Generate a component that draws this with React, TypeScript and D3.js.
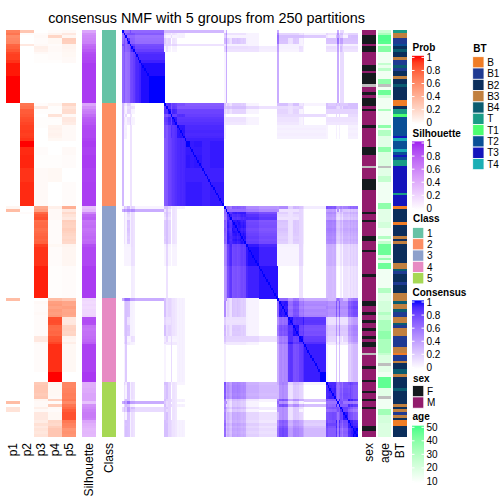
import React from "react";
import * as d3 from "d3";

// ---- membership probabilities (rows in plotted order) ----
const p1 = [
  0.65,0.70,0.60,0.62,0.63,0.76,0.78,0.82,0.88,0.90,
  0.90,0.93,0.98,0.98,0.98,0.98,0.98,1,1,1,
  1,1,1,1,1,1,1,
  0,0,0,0,0,0,0,0,0,0, 0,0,0,0,0,0,0,0,0,0, 0,0,0,0,0,0,0,0,0,0, 0,0,0,0,0,0,0,0,
  0.05,0.35,0,0,0,0,0,0,0,0, 0,0,0,0,0,0,0,0,0,0, 0,0,0,0,0,0,0,0,0,0, 0,0,0,0,
  0.35,0,0,0,0,0,0,0,0,0, 0,0,0,0,0,0,0,0,0,0, 0,0,0,0,0,0,0,0,0,0, 0,
  0,0,0,0,0,0,0,0.35,0,0.15, 0.15,0,0,0,0,0,0,0,0,0,
];
const p2 = [
  0.30,0.02,0,0,0,0.12,0,0,0,0, 0,0,0,0,0,0,0,0,0,0, 0,0,0,0,0,0,0,
  0.70,0.72,0.80,0.80,0.82,0.85,0.86,0.88,0.90,0.90,
  0.91,0.90,0.91,0.93,1,1,0.95,0.95,0.95,0.96,
  0.96,0.96,0.96,0.96,0.93,0.93,0.93,0.93,0.93,0.95,
  0.95,0.95,0.95,0.95,0.95,0.95,0.95,0.95,
  0,0,0.02,0,0,0,0,0,0,0, 0,0,0,0,0,0,0,0,0,0, 0,0,0,0,0,0,0,0,0,0, 0,0,0,0,
  0,0,0,0,0,0,0,0,0,0, 0,0,0,0,0,0,0,0,0,0, 0,0,0,0,0,0,0,0,0,0, 0,
  0,0,0,0,0,0,0,0,0,0, 0,0,0,0,0,0,0,0,0,0,
];
const p3 = [
  0,0.02,0.03,0.02,0.02,0.03,0.08,0.07,0.03,0.01, 0.01,0.01,0,0,0,0,0,0,0,0, 0,0,0,0,0,0,0,
  0.02,0.12,0.01,0.01,0,0.01,0.01,0.01,0.01,0,
  0,0,0,0,0,0,0.02,0.02,0.02,0.01,
  0.01,0.01,0.01,0.01,0.03,0.03,0.03,0.03,0.03,0.03,
  0.03,0.03,0.03,0.03,0.03,0.03,0.03,0.03,
  0.45,0.50,0.75,0.82,0.85,0.72,0.74,0.75,0.72,0.74,
  0.76,0.78,0.76,0.78,0.90,0.93,0.93,0.93,0.93,0.93,
  0.93,0.93,0.97,0.97,0.97,0.97,0.97,0.97,0.97,0.97, 0.97,0.97,0.97,0.97,
  0,0.03,0.02,0.02,0.02,0.03,0.02,0.02,0.02,0.02,
  0.02,0.02,0.02,0.02,0.12,0.12,0.03,0.02,0.02,0.02,
  0.02,0.02,0.02,0.02,0.02,0.02,0.02,0,0,0, 0,
  0.28,0.30,0.30,0.30,0.28,0.30,0.05,0.03,0.03,0.08,
  0.03,0.12,0.12,0.12,0.10,0.16,0.12,0.15,0.13,0.15,
];
const p4 = [
  0.02,0.06,0.22,0.04,0.04,0.02,0.03,0.03,0.02,0.02, 0.02,0.01,0,0,0,0,0,0,0,0, 0,0,0,0,0,0,0,
  0.05,0.01,0.01,0.01,0.15,0.02,0.01,0.01,0.06,0.07,
  0.06,0.07,0.06,0.04,0,0,0,0,0,0.01,
  0.01,0.01,0.01,0.01,0.04,0.04,0.04,0.04,0.04,0,
  0,0,0,0,0,0,0,0,
  0.08,0.03,0.03,0.03,0.03,0.02,0.02,0.02,0.02,0.02,
  0.02,0.02,0.02,0.02,0.04,0.02,0.02,0.02,0.02,0.02,
  0.02,0.02,0.01,0.01,0.01,0.01,0.01,0.01,0.01,0.01, 0.01,0.01,0.01,0.01,
  0.35,0.50,0.52,0.48,0.52,0.50,0.53,0.85,0.86,0.85,
  0.75,0.74,0.76,0.75,0.82,0.83,0.88,0.94,0.94,0.94,
  0.94,0.94,0.94,0.94,0.94,0.94,0.94,1,1,1, 1,
  0.05,0.04,0.04,0.04,0.04,0.03,0.25,0.02,0.27,0.03,
  0.02,0.04,0.04,0.04,0.22,0.20,0.26,0.30,0.30,0.30,
];
const p5 = [
  0.03,0.12,0.05,0.26,0.25,0.06,0.06,0.05,0.04,0.04, 0.03,0.03,0,0,0,0,0,0,0,0, 0,0,0,0,0,0,0,
  0.22,0.15,0.18,0.18,0.03,0.12,0.12,0.10,0.03,0.03,
  0.03,0.03,0.03,0.03,0,0,0.03,0.03,0.03,0.02,
  0.02,0.02,0.02,0.02,0,0,0,0,0,0.02,
  0.02,0.02,0.02,0.02,0.02,0.02,0.02,0.02,
  0.42,0.12,0.20,0.15,0.12,0.26,0.24,0.23,0.26,0.24,
  0.22,0.20,0.22,0.20,0.06,0.05,0.05,0.05,0.05,0.05,
  0.05,0.05,0.02,0.02,0.02,0.02,0.02,0.02,0.02,0.02, 0.02,0.02,0.02,0.02,
  0.30,0.47,0.46,0.50,0.46,0.47,0.45,0.13,0.12,0.13,
  0.23,0.24,0.22,0.23,0.06,0.05,0.09,0.04,0.04,0.04,
  0.04,0.04,0.04,0.04,0.04,0.04,0.04,0,0,0, 0,
  0.62,0.62,0.64,0.64,0.66,0.65,0.68,0.60,0.70,0.74,
  0.80,0.84,0.84,0.84,0.68,0.64,0.62,0.55,0.57,0.55,
];
const silhouette = [
  0.45,0.55,0.58,0.60,0.62,0.72,0.75,0.80,0.85,0.87,
  0.88,0.89,0.92,0.92,0.92,0.92,0.92,0.92,0.92,0.92, 0.92,0.92,0.92,0.92,0.92,0.92,0.92,
  0.45,0.55,0.62,0.65,0.72,0.78,0.80,0.82,0.86,0.87,
  0.88,0.88,0.88,0.90,0.92,0.92,0.90,0.90,0.90,0.92,
  0.92,0.92,0.92,0.92,0.90,0.90,0.90,0.90,0.90,0.91,
  0.91,0.91,0.91,0.91,0.91,0.91,0.91,0.91,
  0.30,0.35,0.60,0.75,0.78,0.68,0.70,0.72,0.68,0.70,
  0.72,0.74,0.72,0.74,0.85,0.88,0.88,0.88,0.88,0.88,
  0.88,0.88,0.92,0.92,0.92,0.92,0.92,0.92,0.92,0.92, 0.92,0.92,0.92,0.92,
  0.20,0.18,0.20,0.18,0.20,0.20,0.22,0.85,0.86,0.85,
  0.70,0.68,0.70,0.70,0.72,0.74,0.78,0.90,0.90,0.90,
  0.90,0.90,0.90,0.90,0.90,0.90,0.90,0.93,0.93,0.93, 0.93,
  0.40,0.40,0.42,0.42,0.45,0.45,0.45,0.30,0.55,0.58,
  0.62,0.65,0.65,0.62,0.45,0.40,0.38,0.35,0.36,0.35,
];
const groupSizes = [27, 38, 34, 31, 20];

// ---- sample annotations ----
const sex = (
  "MMFFFMFFMMMMMFFMFFFF" + "NMMFMFFFMFMMMMMFMMMM" + "MMMFFFMMMMNMMMMFFFFM" +
  "MMMMMMMFMMFMMMMMFFMM" + "MFMMMMMMMMFMMMMMMMMM" + "FFMMFMMFMMFMMFMFFMMN" +
  "MMMMFMMMMFMMMFMMFMMF" + "MMMMMMFFMM"
).split("");
const age: (number | null)[] = [
  24,32,48,48,47,18,40,40,14,14, 14,14,26,16,28,14,14,14,38,38,
  null,14,44,44,22,14,14,14,14,32, 14,14,14,14,14,38,14,30,30,18,
  18,18,18,38,38,20,20,20,20,20, null,18,18,18,26,26,14,14,14,14,
  14,14,14,14,38,38,18,18,18,18, 18,22,22,14,14,14,30,14,26,44,
  44,44,44,18,36,16,44,44,14,14, 14,14,14,14,14,30,30,18,18,18,
  22,22,22,22,30,24,24,32,32,32, 32,38,38,38,32,32,32,32,32,26,
  20,20,20,null,18,18,14,14,46,46, 46,46,18,18,18,null,14,14,14,14,
  34,34,22,22,22,20,20,20,20,20,
];
const bt = [
  "T","B3","B3","B1","B1","T2","B2","B4","B2","B2",
  "B3","B1","B1","B4","B1","B2","B2","B3","B2","B2",
  "B4","B2","B2","B2","B2","B2","B","B","B2","T",
  "T","T1","T2","T2","T2","T2","T2","T2","T2","T3",
  "T4","T2","T2","T2","T4","T2","T3","T2","T","T",
  "T3","T3","T3","T3","T3","T3","T3","T3","T3","T3",
  "T","T3","T3","T3","T3","B","B2","B2","B2","B2",
  "B2","B","B2","B2","B2","B2","B3","B2","B3","B2",
  "B2","B2","B2","B2","B2","B2","B3","B3","B4","B1",
  "B2","B2","B2","B1","B2","B2","B2","B3","B3","B3",
  "B4","B3","B3","B4","B1","B1","B3","B3","B4","B1",
  "B3","B3","B3","B1","B1","B1","B1","B3","B3","B",
  "B1","B1","B3","B2","B2","B4","B4","B3","B2","B2",
  "B2","B2","B4","B2","B2","B2","B2","B2","B3","B2",
  "B3","B1","B3","B2","B","B","B2","B2","B2","B2",
];

const classLevels = ["1", "2", "3", "4", "5"];
const classColors = ["#66C2A5", "#FC8D62", "#8DA0CB", "#E78AC3", "#A6D854"];
const btLevels = ["B", "B1", "B2", "B3", "B4", "T", "T1", "T2", "T3", "T4"];
const btColors = ["#F07D26", "#1F3A92", "#0B2E5B", "#C1803F", "#0A5C70", "#1A9C86", "#4CFF70", "#0A4F96", "#1414BC", "#1AAEB5"];
const sexLevels = ["F", "M"];
const sexColors = ["#151A1E", "#921C6C"];
const probTicks = [0, 0.2, 0.4, 0.6, 0.8, 1];
const ageTicks = [10, 20, 30, 40, 50];
const probCols = ["p1", "p2", "p3", "p4", "p5"];
const NA = "#BEBEBE";
const FONT = "'Liberation Sans', Arial, Helvetica, sans-serif";

const ramp = (hi: string, lo = 0, hiV = 1) =>
  d3.scaleLinear<string>().domain([lo, hiV]).range(["#FFFFFF", hi]).interpolate(d3.interpolateLab).clamp(true);
const probColor = ramp("#FF0000");
const silColor = ramp("#A020F0");
const consColor = ramp("#0000FF");
const ageColor = ramp("#3DFF86", 10, 50);

function ContLegend({ id, x, titleY, title, barTop, barBottom, ticks, color, fmt }: any) {
  const lo = ticks[0], hi = ticks[ticks.length - 1];
  const ty = d3.scaleLinear().domain([lo, hi]).range([barBottom - 1.6, barTop + 1.6]);
  const stops = d3.range(0, 1.0001, 0.1);
  return (
    <g>
      <defs>
        <linearGradient id={id} x1="0" y1="1" x2="0" y2="0">
          {stops.map((s) => (
            <stop key={s} offset={s} stopColor={color(lo + s * (hi - lo))} />
          ))}
        </linearGradient>
      </defs>
      <text x={x + 0.5} y={titleY} fontSize={10} fontWeight="bold" fontFamily={FONT}>{title}</text>
      <rect x={x} y={barTop} width={12} height={barBottom - barTop} fill={`url(#${id})`} />
      {ticks.map((t: number) => (
        <g key={t}>
          <line x1={x} x2={x + 2.5} y1={ty(t)} y2={ty(t)} stroke="white" strokeWidth={1} />
          <line x1={x + 9.5} x2={x + 12} y1={ty(t)} y2={ty(t)} stroke="white" strokeWidth={1} />
          <text x={x + 14.5} y={ty(t)} dy="0.36em" fontSize={10} fontFamily={FONT}>{fmt(t)}</text>
        </g>
      ))}
    </g>
  );
}

function DiscLegend({ x, titleY, title, top, levels, colors }: any) {
  return (
    <g>
      <text x={x + 0.5} y={titleY} fontSize={10} fontWeight="bold" fontFamily={FONT}>{title}</text>
      {levels.map((l: string, i: number) => (
        <g key={l}>
          <rect x={x} y={top + i * 11.3} width={11.3} height={11.3} fill={colors[i]} stroke="white" strokeWidth={0.8} />
          <text x={x + 14.5} y={top + i * 11.3 + 5.65} dy="0.36em" fontSize={10} fontFamily={FONT}>{l}</text>
        </g>
      ))}
    </g>
  );
}

export default function App() {
  const N = p1.length;
  const probs = [p1, p2, p3, p4, p5];
  const cls: number[] = groupSizes.flatMap((n, g) => Array(n).fill(g));
  const rows = d3.range(N);
  const yS = d3.scaleBand<number>().domain(rows).range([30, 436.6]);
  const xS = d3.scaleBand<number>().domain(rows).range([122, 357.5]);
  const rh = yS.bandwidth();
  const cw = xS.bandwidth();
  // co-membership table built from the membership probabilities
  const consensus = (i: number, j: number) => {
    if (i === j) return 1;
    let s = 0;
    probs.forEach((p) => {
      const m = Math.min(p[i], p[j]);
      if (m >= 0.05) s += m;
    });
    return Math.min(1, s);
  };

  const colW = 14;
  const probX = d3.scaleBand<number>().domain(d3.range(5)).range([6, 76]);
  const silX = 82, classX = 102, sexX = 362, ageX = 377.5, btX = 393;
  const labY = 443;

  const cells: React.ReactNode[] = [];
  rows.forEach((i) => {
    rows.forEach((j) => {
      const v = consensus(i, j);
      if (v < 0.004) return;
      cells.push(
        <rect key={i * N + j} x={xS(j)} y={yS(i)} width={cw + 0.15} height={rh + 0.15} fill={consColor(v)} />
      );
    });
  });

  const rotLabel = (cx: number, t: string, fs = 12) => (
    <text key={t} transform={`translate(${cx + 4.3},${labY}) rotate(-90)`} textAnchor="end" fontSize={fs} fontFamily={FONT}>{t}</text>
  );

  return (
    <svg width={504} height={504} style={{ position: "absolute", left: 0, top: 0, background: "white" }}>
      <rect x={0} y={0} width={504} height={504} fill="white" />
      <text x={206.5} y={22.5} textAnchor="middle" fontSize={14.4} fontFamily={FONT}>
        consensus NMF with 5 groups from 250 partitions
      </text>

      <g shapeRendering="crispEdges">
        {probs.map((p, k) =>
          rows.map((i) => (
            <rect key={`p${k}-${i}`} x={probX(k)} y={yS(i)} width={probX.bandwidth() + 0.2} height={rh + 0.15} fill={probColor(p[i])} />
          ))
        )}
        {rows.map((i) => (
          <rect key={`s${i}`} x={silX} y={yS(i)} width={colW} height={rh + 0.15} fill={silColor(silhouette[i])} />
        ))}
        {rows.map((i) => (
          <rect key={`c${i}`} x={classX} y={yS(i)} width={colW} height={rh + 0.15} fill={classColors[cls[i]]} />
        ))}
        <rect x={122} y={30} width={235.5} height={406.6} fill="white" />
        {cells}
        {rows.map((i) => (
          <rect key={`sx${i}`} x={sexX} y={yS(i)} width={colW} height={rh + 0.15}
            fill={sex[i] === "N" ? NA : sexColors[sexLevels.indexOf(sex[i])]} />
        ))}
        {rows.map((i) => (
          <rect key={`ag${i}`} x={ageX} y={yS(i)} width={colW - 0.5} height={rh + 0.15}
            fill={age[i] == null ? NA : ageColor(age[i] as number)} />
        ))}
        {rows.map((i) => (
          <rect key={`bt${i}`} x={btX} y={yS(i)} width={colW} height={rh + 0.15}
            fill={btColors[btLevels.indexOf(bt[i])]} />
        ))}
      </g>

      {probCols.map((t, k) => rotLabel((probX(k) as number) + probX.bandwidth() / 2, t))}
      {rotLabel(silX + colW / 2, "Silhouette")}
      {rotLabel(classX + colW / 2, "Class")}
      {rotLabel(sexX + colW / 2, "sex")}
      {rotLabel(ageX + colW / 2, "age")}
      {rotLabel(btX + colW / 2, "BT")}

      <ContLegend id="gProb" x={412} titleY={50.7} title="Prob" barTop={55.8} barBottom={124.3} ticks={probTicks} color={probColor} fmt={(t: number) => String(t)} />
      <ContLegend id="gSil" x={412} titleY={136.8} title="Silhouette" barTop={141.4} barBottom={210} ticks={probTicks} color={silColor} fmt={(t: number) => String(t)} />
      <DiscLegend x={412.5} titleY={222} title="Class" top={227.4} levels={classLevels} colors={classColors} />
      <ContLegend id="gCons" x={412} titleY={295.8} title="Consensus" barTop={300.4} barBottom={369} ticks={probTicks} color={consColor} fmt={(t: number) => String(t)} />
      <DiscLegend x={412.5} titleY={381.5} title="sex" top={385.6} levels={sexLevels} colors={sexColors} />
      <ContLegend id="gAge" x={412} titleY={419.5} title="age" barTop={425.7} barBottom={483} ticks={ageTicks} color={ageColor} fmt={(t: number) => String(t)} />
      <DiscLegend x={472.7} titleY={51.5} title="BT" top={56.7} levels={btLevels} colors={btColors} />
    </svg>
  );
}
